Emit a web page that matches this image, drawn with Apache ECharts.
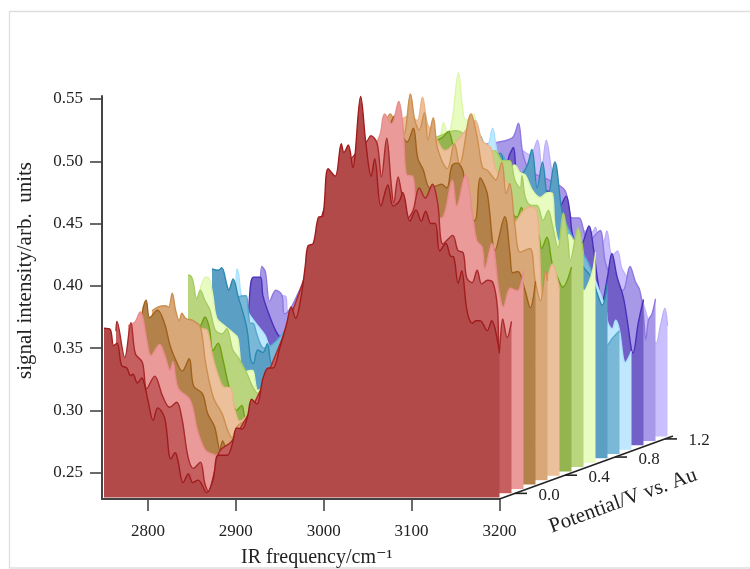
<!DOCTYPE html>
<html><head><meta charset="utf-8">
<script src="https://cdn.jsdelivr.net/npm/echarts@6/dist/echarts.min.js"></script>
<style>html,body{margin:0;padding:0;background:#fff}#c{width:750px;height:569px}</style>
</head><body><div id="c"></div>
<script>
const xTicks = [2800, 2900, 3000, 3100, 3200];
const yTicks = [0.25, 0.30, 0.35, 0.40, 0.45, 0.50, 0.55];
const potentialTicks = [0.0, 0.4, 0.8, 1.2];
const potentialRange = [-0.124, 1.264];

// Each series is [IR frequency, signal intensity], front to back.
const s00 = [[2750,.366],[2757,.365],[2761,.352],[2765,.354],[2770,.336],[2776,.334],[2780,.328],[2783,.329],[2788,.322],[2793,.326],[2797,.318],[2800,.308],[2806,.292],[2811,.302],[2819,.294],[2826,.261],[2831,.266],[2834,.260],[2840,.242],[2846,.249],[2851,.242],[2857,.244],[2867,.234],[2874,.244],[2880,.264],[2890,.264],[2896,.273],[2901,.286],[2907,.285],[2913,.294],[2918,.309],[2924,.305],[2931,.326],[2937,.334],[2942,.334],[2950,.350],[2958,.370],[2963,.383],[2968,.374],[2974,.390],[2979,.416],[2982,.432],[2988,.434],[2994,.455],[2999,.456],[3005,.494],[3013,.488],[3020,.514],[3023,.507],[3028,.513],[3033,.495],[3042,.552],[3048,.514],[3054,.488],[3058,.502],[3065,.464],[3073,.481],[3079,.464],[3086,.468],[3090,.475],[3098,.452],[3105,.461],[3111,.452],[3116,.460],[3122,.450],[3127,.450],[3132,.428],[3139,.434],[3144,.424],[3148,.423],[3153,.402],[3157,.412],[3163,.380],[3169,.370],[3173,.372],[3178,.372],[3186,.364],[3191,.372],[3200,.346]];
const s01 = [[2750,.360],[2751,.368],[2760,.339],[2767,.367],[2772,.342],[2780,.335],[2785,.314],[2794,.324],[2803,.308],[2811,.299],[2819,.303],[2825,.290],[2832,.259],[2838,.250],[2846,.255],[2851,.238],[2855,.232],[2863,.250],[2868,.264],[2882,.272],[2914,.312],[2959,.392],[2994,.473],[3016,.497],[3036,.513],[3040,.517],[3047,.511],[3052,.484],[3058,.515],[3063,.479],[3066,.463],[3071,.484],[3075,.471],[3082,.451],[3088,.457],[3095,.475],[3102,.467],[3110,.478],[3116,.463],[3122,.430],[3133,.437],[3139,.425],[3145,.423],[3149,.403],[3155,.399],[3161,.409],[3166,.398],[3173,.401],[3179,.399],[3184,.379],[3186,.342],[3190,.370],[3195,.355],[3200,.368]];
const s02 = [[2750,.361],[2758,.364],[2764,.372],[2767,.367],[2772,.347],[2776,.337],[2786,.346],[2792,.337],[2798,.325],[2801,.332],[2807,.311],[2821,.301],[2829,.277],[2838,.261],[2846,.258],[2850,.257],[2877,.277],[2912,.325],[2957,.405],[3003,.486],[3031,.506],[3037,.515],[3042,.531],[3050,.523],[3058,.541],[3063,.520],[3067,.482],[3074,.481],[3079,.457],[3088,.457],[3099,.447],[3108,.448],[3119,.478],[3124,.457],[3134,.482],[3143,.445],[3147,.429],[3153,.424],[3156,.407],[3164,.427],[3172,.389],[3177,.376],[3185,.391],[3193,.389],[3200,.405]];
const s03 = [[2750,.350],[2753,.370],[2757,.378],[2761,.364],[2770,.370],[2778,.359],[2784,.342],[2790,.331],[2798,.321],[2806,.331],[2811,.309],[2821,.303],[2827,.287],[2835,.276],[2841,.258],[2844,.265],[2848,.260],[2875,.281],[2909,.329],[2955,.410],[3000,.482],[3029,.506],[3034,.518],[3040,.526],[3046,.514],[3054,.505],[3061,.516],[3066,.492],[3072,.483],[3080,.468],[3088,.470],[3093,.471],[3099,.468],[3105,.486],[3111,.488],[3118,.480],[3122,.444],[3131,.442],[3137,.476],[3145,.464],[3154,.418],[3165,.445],[3171,.415],[3174,.400],[3180,.401],[3188,.386],[3194,.372],[3200,.393]];
const s04 = [[2750,.366],[2757,.369],[2765,.370],[2769,.369],[2773,.380],[2777,.366],[2781,.358],[2784,.364],[2788,.360],[2797,.358],[2805,.353],[2811,.324],[2820,.296],[2830,.283],[2836,.270],[2841,.264],[2848,.274],[2874,.286],[2908,.334],[2954,.406],[2998,.487],[3015,.515],[3021,.524],[3027,.516],[3036,.507],[3044,.540],[3049,.519],[3054,.511],[3060,.525],[3064,.503],[3070,.521],[3075,.496],[3086,.480],[3094,.500],[3100,.484],[3113,.524],[3120,.505],[3126,.481],[3131,.479],[3136,.475],[3141,.471],[3148,.485],[3153,.460],[3157,.468],[3163,.434],[3169,.413],[3180,.416],[3186,.390],[3192,.374],[3198,.398],[3200,.390]];
const s05 = [[2750,.339],[2768,.339],[2785,.343],[2793,.348],[2799,.347],[2805,.327],[2811,.312],[2819,.301],[2825,.301],[2831,.282],[2836,.274],[2859,.298],[2905,.371],[2950,.443],[2996,.491],[3030,.519],[3038,.515],[3044,.534],[3050,.512],[3058,.503],[3070,.491],[3081,.497],[3093,.507],[3104,.515],[3112,.499],[3122,.493],[3127,.477],[3132,.471],[3141,.465],[3149,.433],[3159,.443],[3167,.446],[3174,.443],[3177,.416],[3181,.373],[3192,.400],[3200,.379]];
const s06 = [[2750,.335],[2766,.343],[2777,.346],[2783,.354],[2788,.345],[2792,.327],[2798,.333],[2803,.321],[2810,.299],[2819,.279],[2825,.283],[2829,.273],[2846,.291],[2891,.367],[2937,.439],[2982,.479],[3028,.496],[3045,.496],[3053,.498],[3060,.503],[3067,.487],[3075,.479],[3096,.471],[3119,.455],[3138,.434],[3143,.442],[3147,.431],[3155,.411],[3162,.421],[3166,.409],[3172,.418],[3178,.397],[3184,.386],[3190,.378],[3200,.394]];
const s07 = [[2750,.384],[2751,.384],[2755,.381],[2760,.365],[2764,.372],[2769,.364],[2775,.356],[2781,.340],[2789,.337],[2794,.341],[2801,.324],[2807,.318],[2817,.305],[2824,.294],[2830,.289],[2855,.324],[2900,.396],[2946,.452],[2991,.484],[3037,.496],[3054,.500],[3062,.498],[3071,.484],[3082,.480],[3099,.484],[3108,.476],[3116,.476],[3122,.460],[3128,.454],[3130,.464],[3134,.446],[3141,.440],[3147,.440],[3154,.428],[3160,.436],[3164,.426],[3171,.406],[3177,.434],[3182,.414],[3185,.396],[3194,.422],[3200,.401]];
const s08 = [[2750,.368],[2756,.379],[2759,.379],[2764,.367],[2769,.346],[2778,.340],[2788,.334],[2793,.330],[2799,.302],[2807,.304],[2810,.304],[2816,.288],[2835,.304],[2875,.376],[2921,.440],[2978,.473],[3012,.481],[3023,.491],[3027,.503],[3032,.493],[3037,.505],[3044,.543],[3049,.513],[3052,.505],[3057,.506],[3061,.510],[3069,.478],[3080,.465],[3097,.461],[3108,.469],[3114,.463],[3120,.461],[3128,.449],[3137,.443],[3146,.447],[3151,.446],[3154,.419],[3160,.406],[3169,.413],[3177,.404],[3187,.368],[3196,.382],[3200,.399]];
const s09 = [[2750,.382],[2757,.381],[2761,.383],[2767,.369],[2769,.365],[2774,.374],[2780,.359],[2784,.350],[2790,.333],[2794,.309],[2797,.306],[2802,.317],[2808,.315],[2813,.322],[2818,.306],[2839,.333],[2884,.405],[2930,.453],[2987,.477],[3021,.493],[3032,.497],[3040,.500],[3049,.493],[3055,.484],[3063,.475],[3071,.472],[3078,.475],[3083,.465],[3095,.453],[3108,.464],[3114,.478],[3120,.447],[3126,.468],[3132,.439],[3140,.468],[3148,.429],[3157,.402],[3167,.389],[3174,.382],[3180,.377],[3187,.365],[3194,.353],[3200,.371]];
const s10 = [[2750,.333],[2763,.353],[2766,.356],[2775,.357],[2777,.349],[2780,.335],[2783,.335],[2787,.327],[2791,.319],[2795,.315],[2819,.329],[2871,.393],[2928,.441],[2984,.470],[3030,.490],[3041,.486],[3046,.479],[3055,.472],[3061,.470],[3066,.470],[3075,.458],[3098,.445],[3121,.437],[3149,.401],[3166,.381],[3178,.345],[3186,.317],[3192,.323],[3200,.329]];
const s11 = [[2750,.358],[2751,.375],[2753,.371],[2756,.354],[2764,.340],[2772,.332],[2783,.322],[2789,.312],[2797,.311],[2823,.334],[2880,.398],[2937,.438],[2994,.462],[3028,.462],[3037,.474],[3042,.488],[3048,.466],[3056,.458],[3068,.452],[3073,.452],[3085,.438],[3119,.406],[3153,.374],[3171,.342],[3173,.332],[3178,.327],[3182,.334],[3186,.327],[3193,.300],[3200,.309]];
const s12 = [[2750,.322],[2751,.342],[2756,.365],[2764,.365],[2767,.350],[2775,.333],[2783,.320],[2789,.316],[2821,.354],[2877,.410],[2946,.443],[3003,.455],[3042,.455],[3048,.464],[3052,.469],[3056,.447],[3065,.435],[3082,.435],[3099,.431],[3105,.422],[3112,.430],[3116,.418],[3120,.397],[3128,.390],[3138,.406],[3143,.388],[3148,.362],[3153,.346],[3159,.365],[3164,.384],[3170,.365],[3177,.349],[3182,.328],[3186,.308],[3188,.304],[3194,.328],[3200,.347]];
const s13 = [[2750,.343],[2752,.370],[2756,.366],[2761,.342],[2768,.351],[2775,.347],[2778,.332],[2807,.367],[2864,.419],[2932,.451],[3000,.467],[3029,.471],[3038,.474],[3044,.485],[3049,.461],[3057,.447],[3080,.439],[3097,.431],[3105,.409],[3113,.409],[3120,.395],[3126,.391],[3131,.395],[3137,.399],[3143,.373],[3151,.359],[3157,.351],[3163,.351],[3171,.370],[3177,.358],[3182,.351],[3186,.334],[3189,.311],[3192,.327],[3196,.332],[3200,.344]];
const s14 = [[2750,.323],[2763,.343],[2766,.342],[2768,.331],[2793,.355],[2850,.407],[2918,.444],[2987,.460],[3032,.460],[3044,.456],[3052,.468],[3057,.446],[3062,.468],[3069,.441],[3078,.422],[3089,.407],[3106,.395],[3114,.394],[3118,.398],[3123,.383],[3128,.387],[3131,.395],[3137,.375],[3143,.379],[3148,.365],[3157,.355],[3169,.343],[3178,.323],[3182,.311],[3187,.305],[3192,.319],[3197,.333],[3200,.319]];
const spectra = [s00,s01,s02,s03,s04,s05,s06,s07,s08,s09,s10,s11,s12,s13,s14];

const fills = ['#B24A4A','#C65F5F','#EB9A9A','#B3814A','#D9A878','#ECC09A','#93B44E','#B9D67E','#E8FBC0','#5BA0C4','#7AB8D8','#BFE8FF','#7260C8','#A898E8','#CBC0FF'];
const lines = ['#A01C1C','#A82A2A','#E88C8C','#A0601A','#CC8F50','#E8B488','#6FA010','#A6CC62','#DDF6A8','#2C88B0','#55A8D0','#A8E0FF','#4A30B8','#9078E0','#BEB0F8'];

const FONT = '"Liberation Serif","DejaVu Serif",serif';
const TXT = '#222';
const AX = '#444';
const STEP_X = 12, STEP_Y = 4.36;
const grids = [], xAxes = [], yAxes = [], series = [];

spectra.forEach((d, i) => {
  grids.push({left: 104 + STEP_X*i, top: 61.6 - STEP_Y*i, width: 395.5, height: 436, outerBoundsMode:'none'});
  xAxes.push({type:'value', gridIndex:i, min:2750, max:3200, show:false});
  yAxes.push({type:'value', gridIndex:i, min:0.23, max:0.58, show:false});
  series.push({type:'line', xAxisIndex:i, yAxisIndex:i, data:d, z:30-i, smooth:0.35, symbol:'none', silent:true,
    lineStyle:{color:lines[i], width:1.4}, areaStyle:{color:fills[i], opacity:1, origin:'start'}, animation:false});
});

// Visible axes of the frequency / intensity plane
const n = spectra.length;
grids.push({left:102, top:96, width:397.5, height:403, outerBoundsMode:'none'});
xAxes.push({type:'value', gridIndex:n, min:2747.7, max:3200, position:'bottom',
  axisLine:{show:true, lineStyle:{color:AX, width:2}},
  axisTick:{show:true, length:12, customValues:xTicks, lineStyle:{color:AX, width:1.6}},
  axisLabel:{show:true, customValues:xTicks, color:TXT, fontFamily:FONT, fontSize:17, margin:24, formatter:v=>String(v)},
  splitLine:{show:false},
  name:'IR frequency/cm\u207B\u00B9', nameLocation:'middle', nameGap:49,
  nameTextStyle:{color:TXT, fontFamily:FONT, fontSize:20, padding:[0,0,0,32]}});
yAxes.push({type:'value', gridIndex:n, min:0.22896, max:0.5524, position:'left',
  axisLine:{show:true, lineStyle:{color:AX, width:2}},
  axisTick:{show:true, length:12, customValues:yTicks, lineStyle:{color:AX, width:1.6}},
  axisLabel:{show:true, customValues:yTicks, color:TXT, fontFamily:FONT, fontSize:17, margin:19, formatter:v=>v.toFixed(2)},
  splitLine:{show:false},
  name:'signal intensity/arb.  units', nameLocation:'middle', nameGap:66, nameRotate:90,
  nameTextStyle:{color:TXT, fontFamily:FONT, fontSize:21, padding:[0,0,0,54]}});
series.push({type:'line', xAxisIndex:n, yAxisIndex:n, data:[], z:40});

// Depth axis: potential, drawn through its own scale
const m = n + 1;
grids.push({left:499.5, top:436, width:173.5, height:63, outerBoundsMode:'none'});
xAxes.push({type:'value', gridIndex:m, min:potentialRange[0], max:potentialRange[1], show:false});
yAxes.push({type:'value', gridIndex:m, min:potentialRange[0], max:potentialRange[1], show:false});
series.push({type:'line', xAxisIndex:m, yAxisIndex:m, z:41, symbol:'none', silent:true, animation:false,
  data:potentialRange.map(p=>[p,p]), lineStyle:{color:'#222', width:1.6}});
series.push({type:'custom', xAxisIndex:m, yAxisIndex:m, z:42, silent:true, animation:false, clip:false,
  data:potentialTicks.map(p=>[p,p]),
  renderItem:(params, api)=>{
    const c = api.coord([api.value(0), api.value(1)]);
    return {type:'group', children:[
      {type:'line', shape:{x1:c[0], y1:c[1], x2:c[0]+12, y2:c[1]}, style:{stroke:'#222', lineWidth:1.6}},
      {type:'text', style:{x:c[0]+34, y:c[1]+2, text:api.value(0).toFixed(1), fill:TXT, font:'17px '+FONT, textAlign:'center', textVerticalAlign:'middle'}}
    ]};
  }});

const chart = echarts.init(document.getElementById('c'), null, {renderer:'canvas'});
chart.setOption({
  animation:false, backgroundColor:'#fff', tooltip:{show:false}, legend:{show:false},
  grid:grids, xAxis:xAxes, yAxis:yAxes, series:series,
  graphic:[
    {type:'polyline', shape:{points:[[750,11.5],[9.5,11.5],[9.5,568],[750,568]]}, style:{fill:'none', stroke:'#dedede', lineWidth:1.3}, z:-1},
    {type:'text', x:623, y:501, rotation:20*Math.PI/180, z:50,
      style:{text:'Potential/V vs. Au', fill:TXT, font:'21px '+FONT, textAlign:'center', textVerticalAlign:'middle'}}
  ]
});
</script></body></html>
